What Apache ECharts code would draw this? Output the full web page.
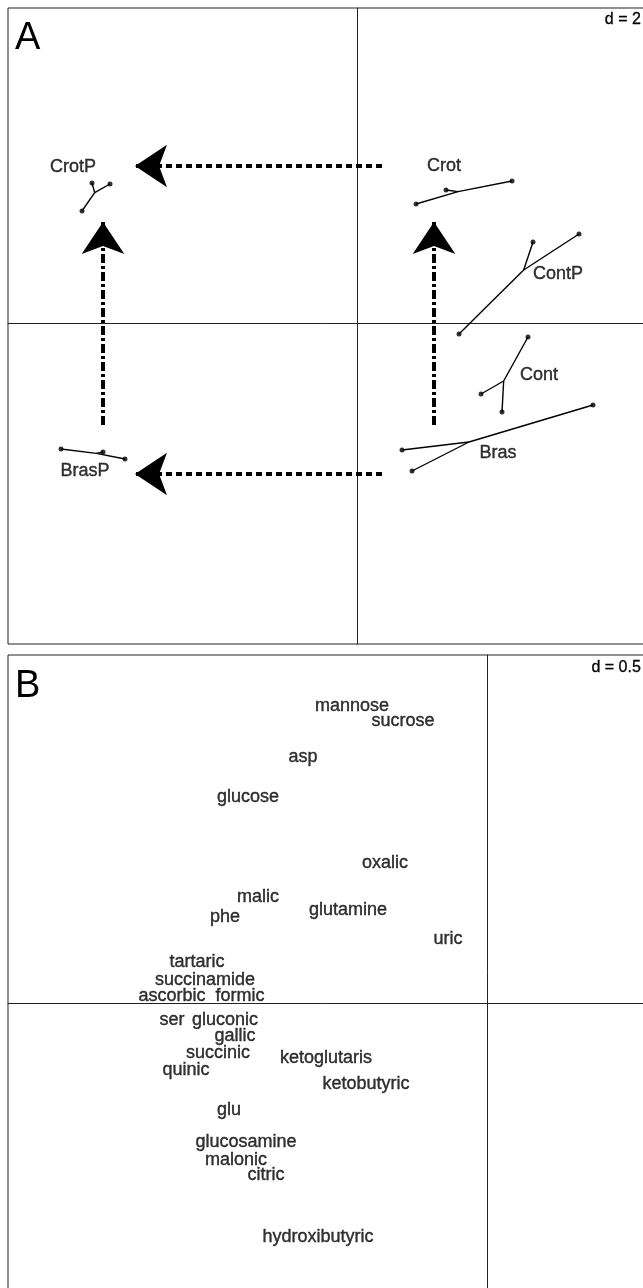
<!DOCTYPE html>
<html>
<head>
<meta charset="utf-8">
<script src="https://cdn.jsdelivr.net/npm/echarts@6/dist/echarts.min.js"></script>
<style>
html,body{margin:0;padding:0;background:#fff;}
#chart{width:643px;height:1288px;}
</style>
</head>
<body>
<div id="chart"></div>
<script>
// ---------- Panel A data (factorial map, d = 2) ----------
const groupNames  = ['Crot', 'ContP', 'Cont', 'Bras', 'CrotP', 'BrasP'];
const groupX = [
  [1.18, 1.78, 3.10],
  [3.52, 4.44, 2.04],
  [3.42, 2.48, 2.90],
  [0.90, 1.10, 4.72],
  [-5.30, -4.94, -5.50],
  [-5.92, -5.08, -4.64]
];
const groupY = [
  [2.38, 2.66, 2.84],
  [1.62, 1.78, -0.22],
  [-0.28, -1.42, -1.78],
  [-2.54, -2.96, -1.64],
  [2.80, 2.78, 2.24],
  [-2.52, -2.58, -2.72]
];
const groupLabelX = [1.74, 4.02, 3.64, 2.82, -5.68, -5.44];
const groupLabelY = [3.14, 0.98, -1.04, -2.60, 3.12, -2.96];
const hArrowFrom = [[0.50, 3.14], [0.50, -3.02]];
const hArrowTo   = [[-4.44, 3.14], [-4.44, -3.02]];
const vArrowFrom = [[-5.08, -2.04], [1.54, -2.04]];
const vArrowTo   = [[-5.08, 2.02], [1.54, 2.02]];

// ---------- Panel B data (variables, d = 0.5) ----------
const varNames = ['mannose','sucrose','asp','glucose','oxalic','malic','phe','glutamine','uric',
  'tartaric','succinamide','ascorbic','formic','ser','gluconic','gallic','succinic','ketoglutaris',
  'quinic','ketobutyric','glu','glucosamine','malonic','citric','hydroxibutyric'];
const varX = [-0.675,-0.42,-0.92,-1.195,-0.51,-1.145,-1.31,-0.695,-0.195,
  -1.45,-1.41,-1.575,-1.235,-1.575,-1.31,-1.26,-1.345,-0.805,
  -1.505,-0.605,-1.29,-1.205,-1.255,-1.105,-0.845];
const varY = [1.485,1.41,1.23,1.03,0.70,0.53,0.43,0.465,0.32,
  0.205,0.115,0.035,0.035,-0.085,-0.085,-0.165,-0.25,-0.275,
  -0.335,-0.405,-0.535,-0.695,-0.785,-0.86,-1.17];

const FONT = '"Liberation Sans", Arial, sans-serif';

// build star segments (centroid to each replicate)
const starSegs = [];
const starPts = [];
groupNames.forEach((g, i) => {
  const xs = groupX[i], ys = groupY[i];
  const cx = xs.reduce((a, b) => a + b, 0) / xs.length;
  const cy = ys.reduce((a, b) => a + b, 0) / ys.length;
  xs.forEach((x, k) => {
    starSegs.push({coords: [[cx, cy], [x, ys[k]]]});
    starPts.push([x, ys[k]]);
  });
});

const axisCommon = {
  type: 'value',
  axisTick: {show: false},
  axisLabel: {show: false},
  splitLine: {show: false},
  axisLine: {show: true, onZero: true, lineStyle: {color: '#222', width: 1}}
};

const labelStyle = {
  show: true, position: 'inside', formatter: '{b}', color: '#000',
  fontSize: 18, fontFamily: FONT, textBorderColor: '#000', textBorderWidth: 0.4
};

const chart = echarts.init(document.getElementById('chart'), null, {renderer: 'canvas'});
chart.setOption({
  animation: false,
  backgroundColor: '#fff',
  grid: [
    {left: 8, top: 8, width: 645, height: 636, outerBoundsMode: 'none', containLabel: false,
     show: true, borderColor: '#222', borderWidth: 1, backgroundColor: 'transparent'},
    {left: 8, top: 655, width: 645, height: 643, outerBoundsMode: 'none', containLabel: false,
     show: true, borderColor: '#222', borderWidth: 1, backgroundColor: 'transparent'}
  ],
  xAxis: [
    Object.assign({}, axisCommon, {gridIndex: 0, min: -6.98, max: 5.92}),
    Object.assign({}, axisCommon, {gridIndex: 1, min: -2.395, max: 0.83})
  ],
  yAxis: [
    Object.assign({}, axisCommon, {gridIndex: 0, min: -6.42, max: 6.30}),
    Object.assign({}, axisCommon, {gridIndex: 1, min: -1.475, max: 1.74})
  ],
  graphic: [
    {type: 'text', left: 15, top: 20, style: {text: 'A', font: '38px ' + FONT, fill: '#000'}},
    {type: 'text', right: 2, top: 11, style: {text: 'd = 2', font: '16px ' + FONT, fill: '#000', stroke: '#000', lineWidth: 0.3}},
    {type: 'text', left: 15, top: 668, style: {text: 'B', font: '38px ' + FONT, fill: '#000'}},
    {type: 'text', right: 2, top: 659, style: {text: 'd = 0.5', font: '16px ' + FONT, fill: '#000', stroke: '#000', lineWidth: 0.3}}
  ],
  series: [
    {
      type: 'lines', coordinateSystem: 'cartesian2d', xAxisIndex: 0, yAxisIndex: 0,
      data: starSegs, silent: true,
      lineStyle: {color: '#000', width: 1.4, opacity: 1}
    },
    {
      type: 'scatter', xAxisIndex: 0, yAxisIndex: 0, data: starPts, symbolSize: 5,
      itemStyle: {color: '#000'}, silent: true
    },
    {
      type: 'lines', coordinateSystem: 'cartesian2d', xAxisIndex: 0, yAxisIndex: 0, silent: true,
      data: hArrowFrom.map((p, i) => ({coords: [p, hArrowTo[i]]})),
      symbol: ['none', 'arrow'], symbolSize: 32,
      lineStyle: {color: '#000', width: 4, type: [6, 4], opacity: 1, cap: 'butt'}
    },
    {
      type: 'lines', coordinateSystem: 'cartesian2d', xAxisIndex: 0, yAxisIndex: 0, silent: true,
      data: vArrowFrom.map((p, i) => ({coords: [p, vArrowTo[i]]})),
      symbol: ['none', 'arrow'], symbolSize: 32,
      lineStyle: {color: '#000', width: 4, type: [9, 3, 3, 3], opacity: 1, cap: 'butt'}
    },
    {
      type: 'scatter', xAxisIndex: 0, yAxisIndex: 0, symbolSize: 0, silent: true,
      data: groupNames.map((n, i) => ({name: n, value: [groupLabelX[i], groupLabelY[i]]})),
      label: labelStyle
    },
    {
      type: 'scatter', xAxisIndex: 1, yAxisIndex: 1, symbolSize: 0, silent: true,
      data: varNames.map((n, i) => ({name: n, value: [varX[i], varY[i]]})),
      label: labelStyle
    }
  ]
});
</script>
</body>
</html>
